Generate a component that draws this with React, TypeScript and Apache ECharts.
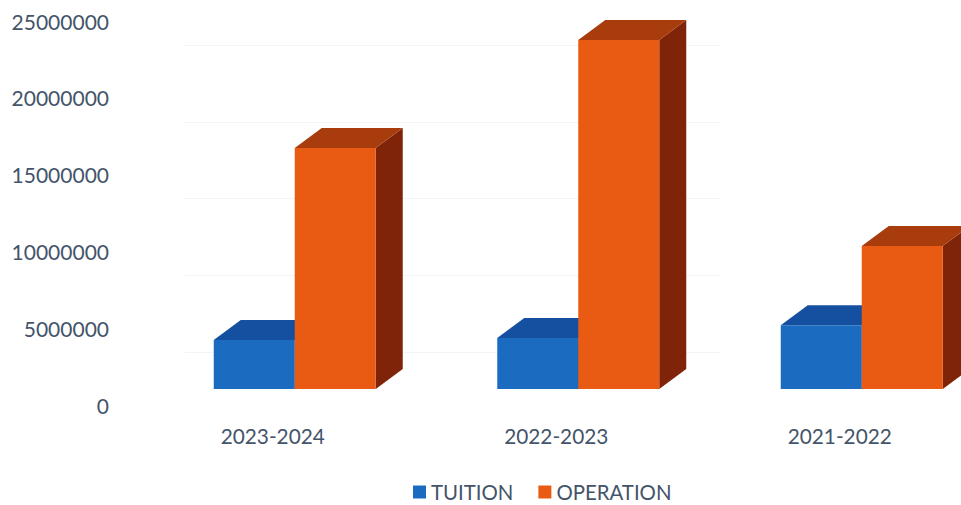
import React, { useEffect, useRef } from "react";
import * as echarts from "echarts";

const categories = ["2023-2024", "2022-2023", "2021-2022"];
const tuition = [4230000, 4360000, 5200000];
const operation = [16730000, 23760000, 10350000];
const yTicks = { min: 0, max: 25000000, interval: 5000000 };

const FONT = "Lato, sans-serif";
const TEXT = "#44546a";
const BAR_W = 81;
const DEPTH_X = 27;
const DEPTH_Y = 20;
const FLOOR_LIFT = 16;

type Shades = { front: string; top: string; side: string };
const blue: Shades = { front: "#1b6cc0", top: "#14509f", side: "#0f3d7d" };
const orange: Shades = { front: "#e95a12", top: "#a83c0c", side: "#7f2408" };

// One box per category: front face, top and right side, sharing a raised floor.
const box3d = (shades: Shades, barOffset: number) => (_: any, api: any) => {
  const idx = api.value(0);
  const [cx, yTop] = api.coord([idx, api.value(1)]);
  const yBase = api.coord([idx, 0])[1] - FLOOR_LIFT;
  const x0 = cx + barOffset;
  const x1 = x0 + BAR_W;
  const poly = (points: number[][], fill: string) => ({
    type: "polygon",
    shape: { points },
    style: { fill },
  });
  return {
    type: "group",
    children: [
      poly(
        [
          [x1, yTop],
          [x1 + DEPTH_X, yTop - DEPTH_Y],
          [x1 + DEPTH_X, yBase - DEPTH_Y],
          [x1, yBase],
        ],
        shades.side
      ),
      poly(
        [
          [x0, yTop],
          [x0 + DEPTH_X, yTop - DEPTH_Y],
          [x1 + DEPTH_X, yTop - DEPTH_Y],
          [x1, yTop],
        ],
        shades.top
      ),
      poly(
        [
          [x0, yTop],
          [x1, yTop],
          [x1, yBase],
          [x0, yBase],
        ],
        shades.front
      ),
    ],
  };
};

export default function App() {
  const ref = useRef<HTMLDivElement>(null);
  useEffect(() => {
    const chart = echarts.init(ref.current!, null, { renderer: "svg" });
    chart.setOption({
      animation: false,
      backgroundColor: "#ffffff",
      grid: [
        { left: 131, top: 21, width: 850.5, height: 384, outerBoundsMode: "none" },
        // Back wall of the 3D plot, set lower than the labelled scale.
        { left: 185, top: 45, width: 535, height: 384, outerBoundsMode: "none" },
      ],
      xAxis: [
        {
          type: "category",
          data: categories,
          gridIndex: 0,
          axisLine: { show: false },
          axisTick: { show: false },
          axisLabel: { color: TEXT, fontFamily: FONT, fontSize: 20.8, margin: 20 },
        },
        { type: "category", data: categories, gridIndex: 1, show: false },
      ],
      yAxis: [
        {
          type: "value",
          gridIndex: 0,
          ...yTicks,
          axisLine: { show: false },
          axisTick: { show: false },
          splitLine: { show: false },
          axisLabel: {
            color: TEXT,
            fontFamily: FONT,
            fontSize: 21,
            margin: 22,
            formatter: (v: number) => String(v),
          },
        },
        {
          type: "value",
          gridIndex: 1,
          ...yTicks,
          axisLine: { show: false },
          axisTick: { show: false },
          axisLabel: { show: false },
          splitLine: { show: true, showMinLine: false, lineStyle: { color: "#f4f4f4", width: 1 } },
        },
      ],
      legend: {
        data: ["TUITION", "OPERATION"],
        left: 413,
        top: 482,
        itemWidth: 13,
        itemHeight: 13,
        itemGap: 25,
        icon: "rect",
        textStyle: { color: TEXT, fontFamily: FONT, fontSize: 20.4 },
        padding: 0,
      },
      series: [
        {
          name: "TUITION",
          type: "custom",
          renderItem: box3d(blue, -BAR_W + 22),
          itemStyle: { color: blue.front },
          encode: { x: 0, y: 1 },
          data: tuition.map((v, i) => [i, v]),
          z: 2,
        },
        {
          name: "OPERATION",
          type: "custom",
          renderItem: box3d(orange, 22),
          itemStyle: { color: orange.front },
          encode: { x: 0, y: 1 },
          data: operation.map((v, i) => [i, v]),
          z: 3,
        },
      ],
    });
    return () => chart.dispose();
  }, []);
  return (
    <div
      ref={ref}
      style={{ position: "absolute", left: 0, top: 0, width: 961, height: 505 }}
    />
  );
}
